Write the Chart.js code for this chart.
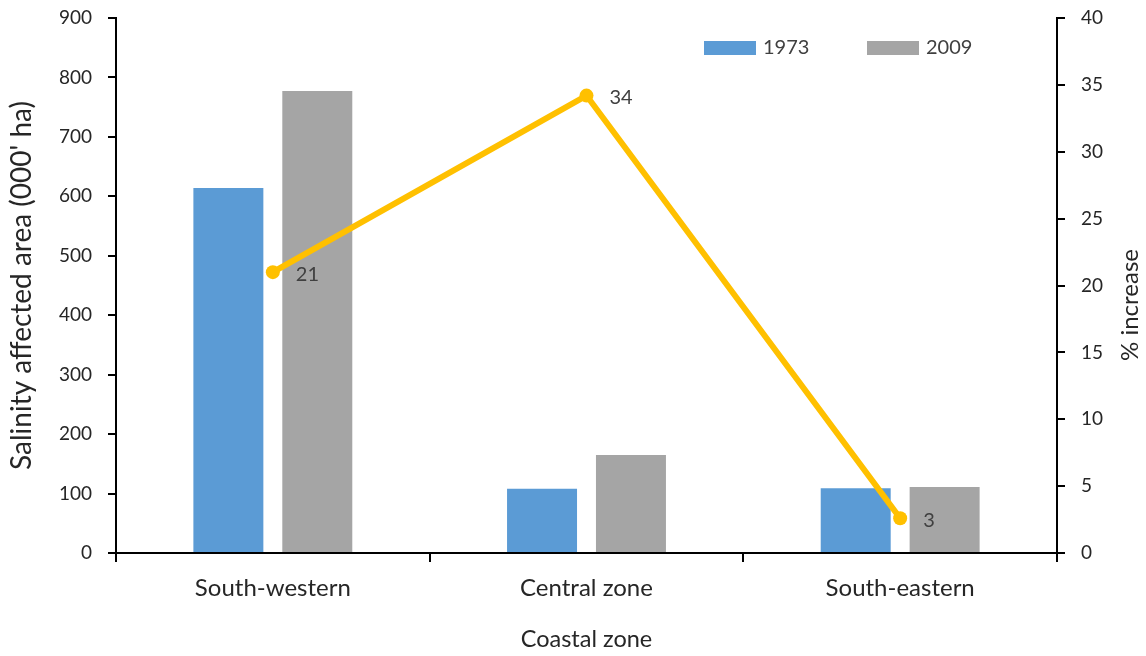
<!DOCTYPE html>
<html>
<head>
<meta charset="utf-8">
<script src="https://cdn.jsdelivr.net/npm/chart.js@4.4.1/dist/chart.umd.min.js"></script>
<style>
  html, body { margin: 0; padding: 0; background: #fff; }
  #wrap { width: 1146px; height: 656px; position: relative; }
</style>
</head>
<body>
<div id="wrap"><canvas id="c" width="1146" height="656"></canvas></div>
<script>
// ---- Data ----
const categories = ['South-western', 'Central zone', 'South-eastern'];
const area1973 = [614, 108, 109];
const area2009 = [777, 165, 111];
const pctIncrease = [21, 34.2, 2.6];
const pctLabels = ['21', '34', '3'];
const seriesNames = ['1973', '2009', '% increase'];
const leftTicks = [0, 100, 200, 300, 400, 500, 600, 700, 800, 900];
const rightTicks = [0, 5, 10, 15, 20, 25, 30, 35, 40];
const rightTitle = '% increase';

const FONT = 'Lato, "Open Sans", sans-serif';
const TXT = '#262626';

const legendPlugin = {
  id: 'customLegend',
  afterDraw(chart) {
    const ctx = chart.ctx;
    const spots = [{x: 704, y: 41}, {x: 867, y: 41}];
    ctx.save();
    [0, 1].forEach((i) => {
      const ds = chart.data.datasets[i];
      ctx.fillStyle = ds.backgroundColor;
      ctx.fillRect(spots[i].x, spots[i].y, 52, 14);
      ctx.fillStyle = '#404040';
      ctx.font = '20px ' + FONT;
      ctx.textBaseline = 'middle';
      ctx.textAlign = 'left';
      ctx.fillText(ds.label, spots[i].x + 59, spots[i].y + 7);
    });
    // right axis title, reading bottom-to-top
    ctx.translate(1130, 305);
    ctx.rotate(-Math.PI / 2);
    ctx.fillStyle = TXT;
    ctx.font = '24px ' + FONT;
    ctx.textAlign = 'center';
    ctx.textBaseline = 'middle';
    ctx.fillText(rightTitle, 0, 0);
    ctx.restore();
  }
};

const pointLabelPlugin = {
  id: 'pointLabels',
  afterDatasetsDraw(chart) {
    const ctx = chart.ctx;
    const meta = chart.getDatasetMeta(2);
    ctx.save();
    ctx.fillStyle = '#404040';
    ctx.font = '20px ' + FONT;
    ctx.textBaseline = 'middle';
    ctx.textAlign = 'left';
    meta.data.forEach((pt, i) => {
      ctx.fillText(pctLabels[i], pt.x + 23, pt.y + 2);
    });
    ctx.restore();
  }
};

new Chart(document.getElementById('c'), {
  data: {
    labels: categories,
    datasets: [
      {
        type: 'bar', label: seriesNames[0], data: area1973, yAxisID: 'y',
        backgroundColor: '#5B9BD5', borderWidth: 0,
        categoryPercentage: 0.567, barPercentage: 0.787, order: 1
      },
      {
        type: 'bar', label: seriesNames[1], data: area2009, yAxisID: 'y',
        backgroundColor: '#A5A5A5', borderWidth: 0,
        categoryPercentage: 0.567, barPercentage: 0.787, order: 1
      },
      {
        type: 'line', label: seriesNames[2], data: pctIncrease, yAxisID: 'y1',
        borderColor: '#FFC000', backgroundColor: '#FFC000',
        borderWidth: 6, pointRadius: 7, pointBackgroundColor: '#FFC000',
        pointBorderWidth: 0, tension: 0, order: 0
      }
    ]
  },
  options: {
    responsive: false,
    animation: false,
    layout: { padding: { top: 18, left: 0, right: 0, bottom: 0 } },
    plugins: { legend: { display: false }, tooltip: { enabled: false } },
    scales: {
      x: {
        type: 'category',
        offset: true,
        grid: { display: true, drawOnChartArea: false, drawTicks: true, tickLength: 9, color: '#000', lineWidth: 2, offset: true },
        border: { display: true, color: '#000', width: 2 },
        ticks: { color: TXT, font: { family: FONT, size: 24 }, padding: 12, maxRotation: 0 },
        title: { display: true, text: 'Coastal zone', color: TXT, font: { family: FONT, size: 23.5 }, padding: { top: 0, bottom: 2 } },
        afterFit(s) { s.height = 103; s.paddingLeft = 0; s.paddingRight = 0; }
      },
      y: {
        position: 'left', min: 0, max: 900,
        afterBuildTicks(s) { s.ticks = leftTicks.map(v => ({ value: v })); },
        grid: { display: true, drawOnChartArea: false, drawTicks: true, tickLength: 8, color: '#000', lineWidth: 2 },
        border: { display: true, color: '#000', width: 2 },
        ticks: { color: TXT, font: { family: FONT, size: 19 }, padding: 16 },
        title: { display: true, text: "Salinity affected area (000' ha)", color: TXT, font: { family: FONT, size: 28 }, padding: { top: 5, bottom: 0 } },
        afterFit(s) { s.width = 116; s.paddingTop = 0; s.paddingBottom = 0; }
      },
      y1: {
        position: 'right', min: 0, max: 40,
        afterBuildTicks(s) { s.ticks = rightTicks.map(v => ({ value: v })); },
        grid: { display: true, drawOnChartArea: false, drawTicks: true, tickLength: 8, color: '#000', lineWidth: 2 },
        border: { display: true, color: '#000', width: 2 },
        ticks: { color: TXT, font: { family: FONT, size: 19 }, padding: 16 },
        title: { display: false },
        afterFit(s) { s.width = 89; s.paddingTop = 0; s.paddingBottom = 0; }
      }
    }
  },
  plugins: [legendPlugin, pointLabelPlugin]
});
</script>
</body>
</html>
